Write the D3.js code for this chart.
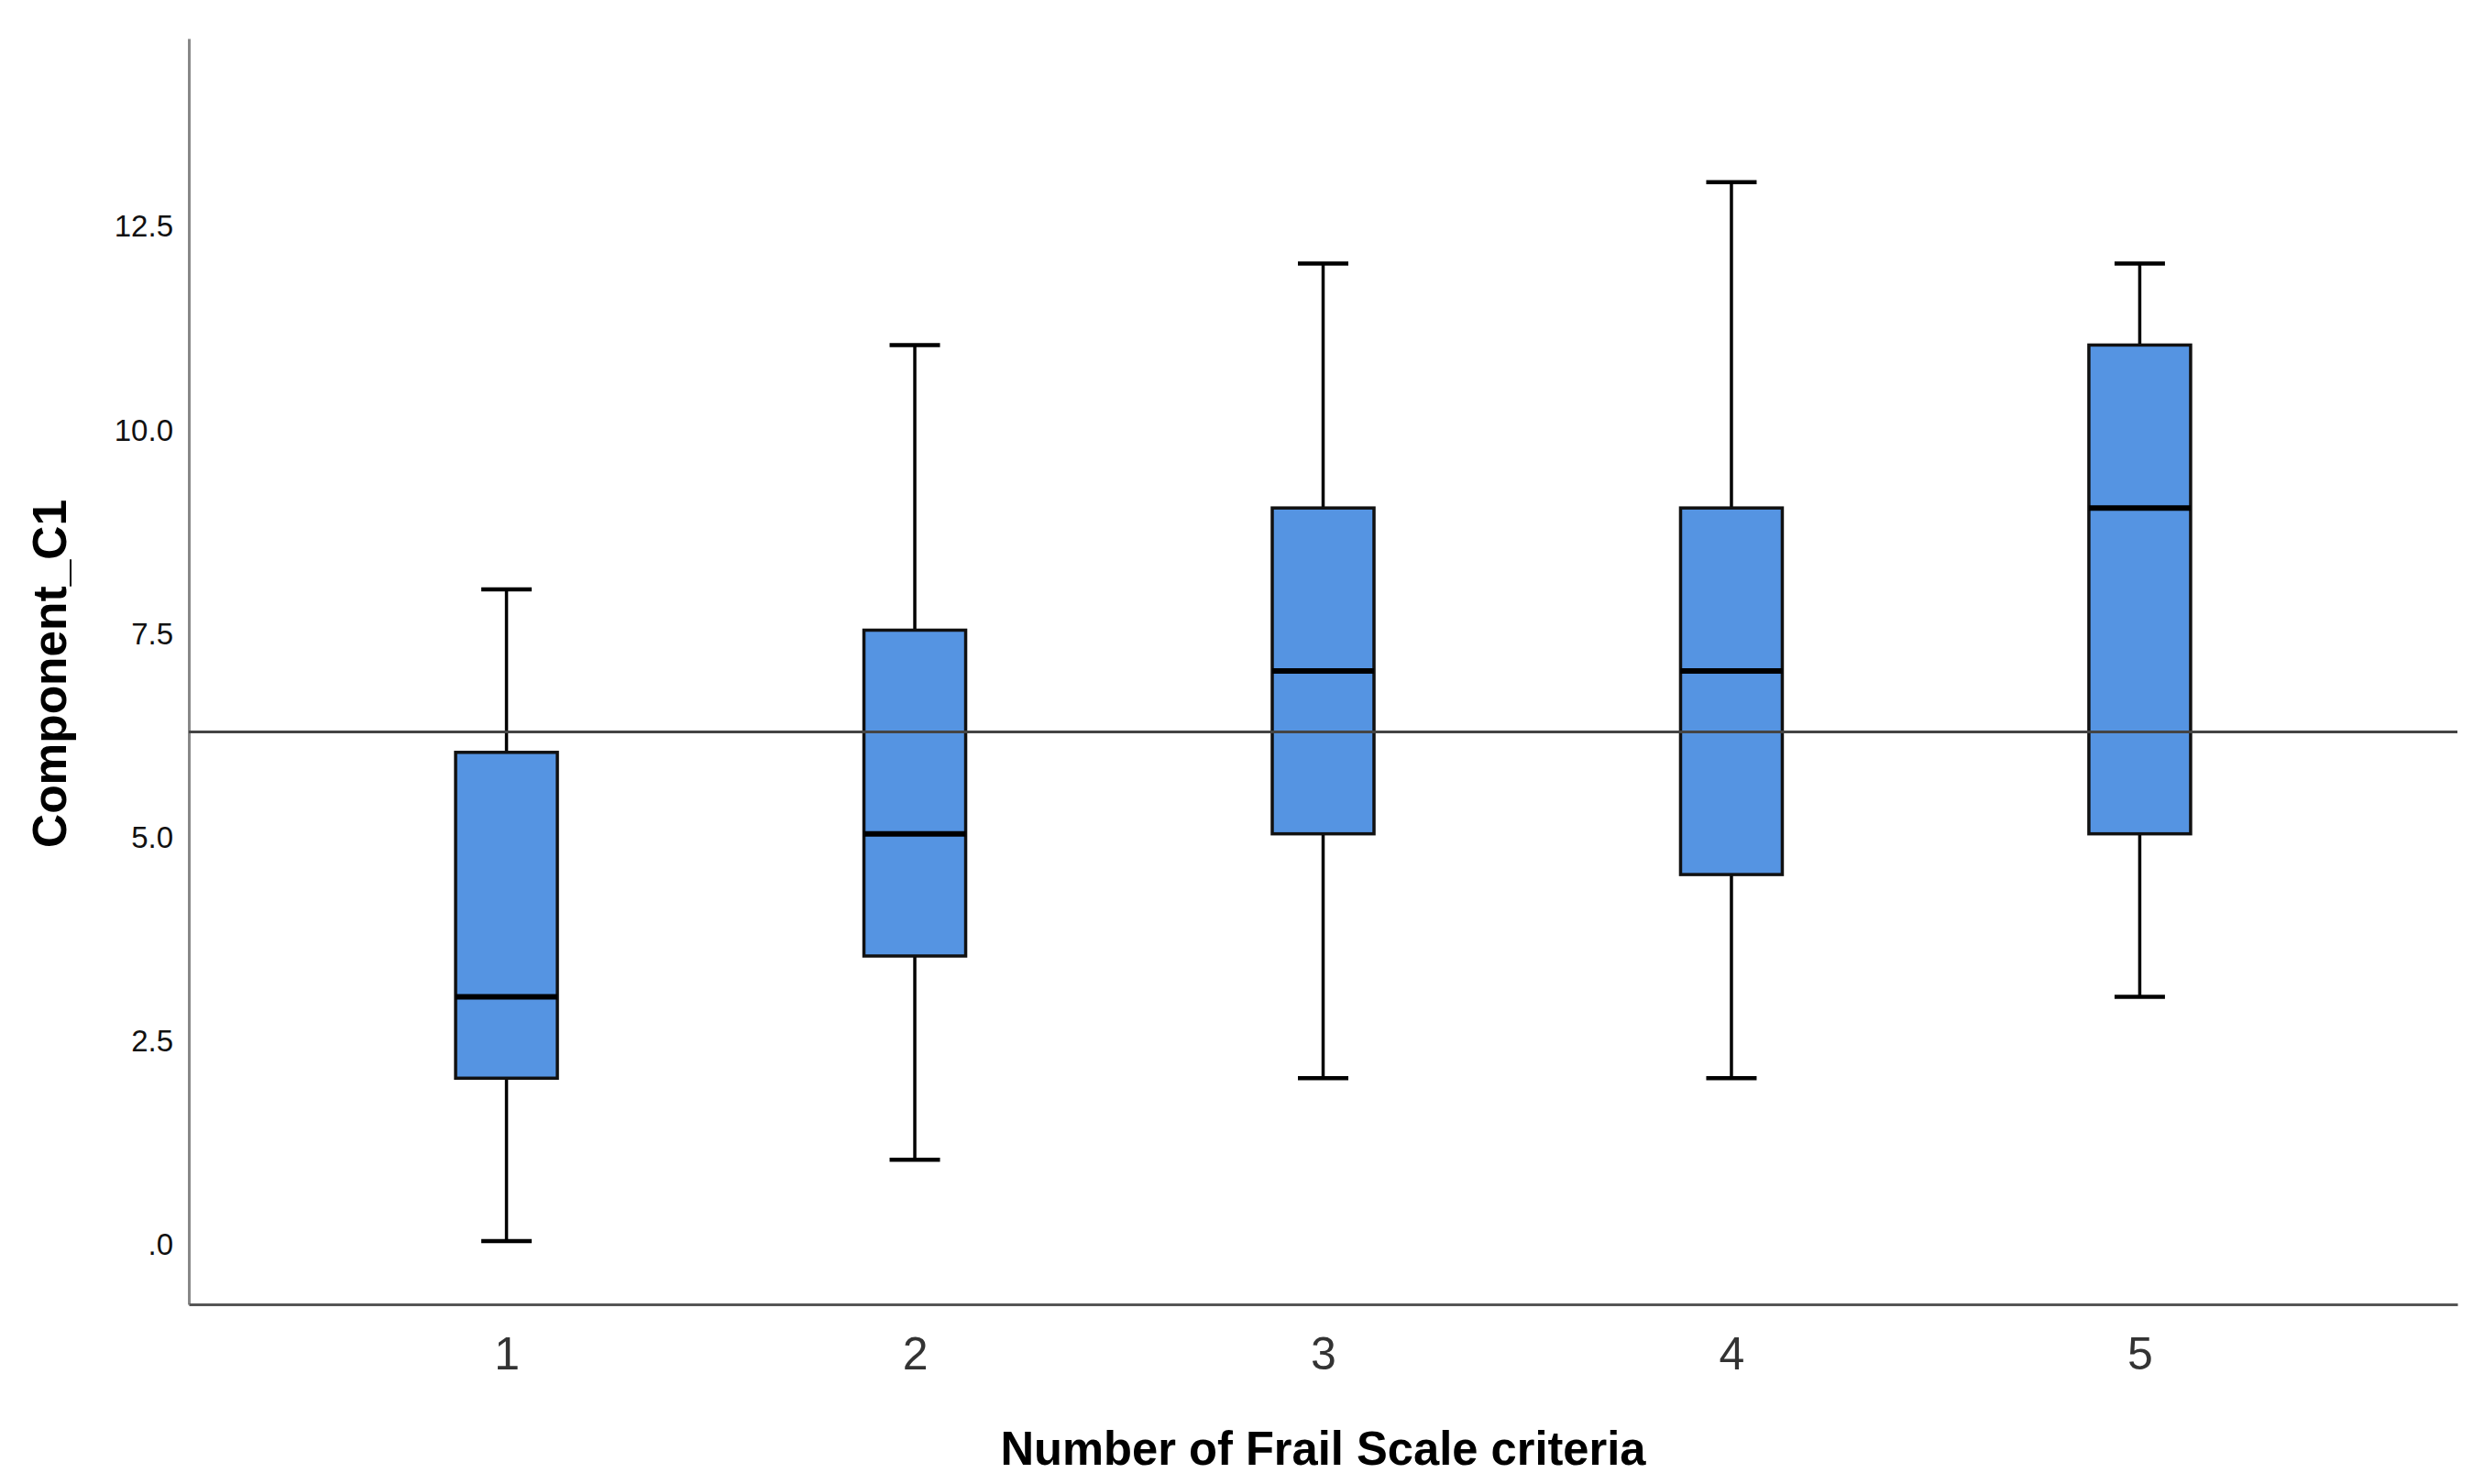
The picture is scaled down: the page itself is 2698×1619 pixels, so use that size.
<!DOCTYPE html>
<html>
<head>
<meta charset="utf-8">
<script src="https://cdn.jsdelivr.net/npm/d3@7"></script>
<style>
  body { margin: 0; background: #fff; }
  text { font-family: "Liberation Sans", Arial, sans-serif; }
</style>
</head>
<body>
<svg id="chart"></svg>
<script>
const svgWidth = 2698;
const svgHeight = 1619;

// data
const categories = [1, 2, 3, 4, 5];
const whiskerLow = [0, 1, 2, 2, 3];
const q1 = [2, 3.5, 5, 4.5, 5];
const median = [3, 5, 7, 7, 9];
const q3 = [6, 7.5, 9, 9, 11];
const whiskerHigh = [8, 11, 12, 13, 12];
const refValue = 6.25;
const yTicks = [0, 2.5, 5, 7.5, 10, 12.5];

const xTitle = "Number of Frail Scale criteria";
const yTitle = "Component_C1";

const plotLeft = 206, plotRight = 2681, plotTop = 42, plotBottom = 1423;
const boxWidth = 111;
const capWidth = 55;
const boxFill = "#5594e2";

const svg = d3.select("#chart")
    .attr("width", svgWidth)
    .attr("height", svgHeight);

const x = d3.scalePoint()
    .domain(categories)
    .range([plotLeft, plotRight])
    .padding(0.778);

const y = d3.scaleLinear()
    .domain([-0.776, 14.763])
    .range([plotBottom, plotTop]);

const boxes = categories.map((c, i) => ({
    cat: c, lo: whiskerLow[i], q1: q1[i], med: median[i], q3: q3[i], hi: whiskerHigh[i]
}));

// axes (no tick marks, SPSS style)
const yAxis = svg.append("g")
    .attr("transform", `translate(${plotLeft},0)`)
    .call(d3.axisLeft(y)
        .tickValues(yTicks)
        .tickSize(0)
        .tickPadding(17)
        .tickFormat(d => d === 0 ? ".0" : d3.format(".1f")(d)));
yAxis.select(".domain").attr("stroke", "#888").attr("stroke-width", 3);
yAxis.selectAll("text")
    .attr("font-size", 33)
    .attr("fill", "#111")
    .attr("dy", "0.45em")
    .style("font-family", "'Liberation Sans', Arial, sans-serif");

const xAxis = svg.append("g")
    .attr("transform", `translate(0,${plotBottom})`)
    .call(d3.axisBottom(x).tickSize(0).tickSizeOuter(0));
xAxis.select(".domain").attr("stroke", "#555").attr("stroke-width", 3);
xAxis.selectAll("text")
    .attr("font-size", 50)
    .attr("fill", "#333")
    .attr("y", 71)
    .attr("dy", 0)
    .style("font-family", "'Liberation Sans', Arial, sans-serif");

// whiskers
const g = svg.append("g");
g.selectAll("line.whisker-up")
    .data(boxes).enter().append("line")
    .attr("class", "whisker-up")
    .attr("x1", d => x(d.cat)).attr("x2", d => x(d.cat))
    .attr("y1", d => y(d.q3)).attr("y2", d => y(d.hi))
    .attr("stroke", "#000").attr("stroke-width", 3.5);
g.selectAll("line.whisker-down")
    .data(boxes).enter().append("line")
    .attr("class", "whisker-down")
    .attr("x1", d => x(d.cat)).attr("x2", d => x(d.cat))
    .attr("y1", d => y(d.q1)).attr("y2", d => y(d.lo))
    .attr("stroke", "#000").attr("stroke-width", 3.5);

// caps
["hi", "lo"].forEach(k => {
    g.selectAll("line.cap-" + k)
        .data(boxes).enter().append("line")
        .attr("class", "cap-" + k)
        .attr("x1", d => x(d.cat) - capWidth / 2)
        .attr("x2", d => x(d.cat) + capWidth / 2)
        .attr("y1", d => y(d[k])).attr("y2", d => y(d[k]))
        .attr("stroke", "#000").attr("stroke-width", 4.5);
});

// boxes
g.selectAll("rect.box")
    .data(boxes).enter().append("rect")
    .attr("class", "box")
    .attr("x", d => x(d.cat) - boxWidth / 2)
    .attr("width", boxWidth)
    .attr("y", d => y(d.q3))
    .attr("height", d => y(d.q1) - y(d.q3))
    .attr("fill", boxFill)
    .attr("stroke", "#111")
    .attr("stroke-width", 3.5);

// medians
g.selectAll("line.median")
    .data(boxes).enter().append("line")
    .attr("class", "median")
    .attr("x1", d => x(d.cat) - boxWidth / 2)
    .attr("x2", d => x(d.cat) + boxWidth / 2)
    .attr("y1", d => y(d.med)).attr("y2", d => y(d.med))
    .attr("stroke", "#000").attr("stroke-width", 6);

// reference line across the plot
svg.append("line")
    .attr("x1", plotLeft).attr("x2", plotRight)
    .attr("y1", y(refValue)).attr("y2", y(refValue))
    .attr("stroke", "#444").attr("stroke-width", 3);

// axis titles
svg.append("text")
    .attr("x", (plotLeft + plotRight) / 2)
    .attr("y", 1598)
    .attr("text-anchor", "middle")
    .attr("font-size", 52)
    .attr("font-weight", "bold")
    .attr("textLength", 704)
    .attr("lengthAdjust", "spacingAndGlyphs")
    .text(xTitle);

svg.append("text")
    .attr("transform", `translate(72,${735}) rotate(-90)`)
    .attr("text-anchor", "middle")
    .attr("font-size", 52)
    .attr("font-weight", "bold")
    .attr("textLength", 380)
    .attr("lengthAdjust", "spacingAndGlyphs")
    .text(yTitle);
</script>
</body>
</html>
